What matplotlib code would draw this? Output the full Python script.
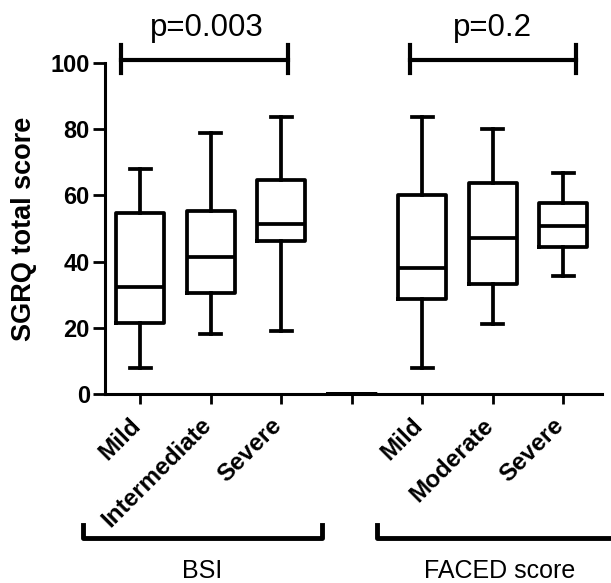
import matplotlib
matplotlib.use("Agg")
import matplotlib.pyplot as plt
from matplotlib.transforms import blended_transform_factory, ScaledTranslation

plt.rcParams['font.family'] = ['Liberation Sans', 'DejaVu Sans']

# box summaries (whisker low, q1, median, q3, whisker high)
groups = ["BSI", "BSI", "BSI", "", "FACED", "FACED", "FACED"]
tick_labels = ["Mild", "Intermediate", "Severe", "", "Mild", "Moderate", "Severe"]
whislo = [7.8, 18.3, 19.0, 0, 7.8, 21.1, 35.7]
q1 = [21.4, 30.4, 46.3, 0, 28.7, 33.1, 44.3]
med = [32.4, 41.5, 51.4, 0, 38.0, 47.0, 50.8]
q3 = [54.6, 55.4, 64.8, 0, 60.1, 63.8, 57.8]
whishi = [67.9, 78.7, 83.8, 0, 83.8, 80.2, 66.9]

p_labels = ["p=0.003", "p=0.2"]
group_names = ["BSI", "FACED score"]

stats = []
for i in range(len(tick_labels)):
    stats.append(dict(whislo=whislo[i], q1=q1[i], med=med[i], q3=q3[i],
                      whishi=whishi[i], fliers=[]))

fig = plt.figure(figsize=(6.11, 5.83), dpi=100)
ax = fig.add_axes([0.172, 0.324, 0.813, 0.568])

positions = list(range(1, len(stats) + 1))
lw = 2.7
ax.bxp(stats, positions=positions, widths=0.68, capwidths=0.3,
       showfliers=False, patch_artist=False,
       boxprops=dict(color="black", linewidth=lw),
       medianprops=dict(color="black", linewidth=lw),
       whiskerprops=dict(color="black", linewidth=lw),
       capprops=dict(color="black", linewidth=lw),
       manage_ticks=False)

ax.set_xlim(0.5, 7.55)
ax.set_ylim(0, 100)
ax.set_yticks([0, 20, 40, 60, 80, 100])
ax.set_xticks(positions)
ax.tick_params(axis="y", labelsize=17, length=9, width=2, pad=2)
ax.tick_params(axis="x", length=7, width=2, pad=7)
ax.set_xticklabels(tick_labels, rotation=45, ha="right", rotation_mode="anchor",
                   fontsize=17.5, fontweight="bold")
for lab in ax.get_yticklabels():
    lab.set_fontweight("bold")
# nudge the slanted labels so their ends sit just left of the ticks
shift = ScaledTranslation(-11 / 100, 0, fig.dpi_scale_trans)
for lab in ax.get_xticklabels():
    lab.set_transform(lab.get_transform() + shift)
ax.set_ylabel("SGRQ total score", fontsize=19.5, fontweight="bold", labelpad=10)

for s in ["top", "right"]:
    ax.spines[s].set_visible(False)
for s in ["left", "bottom"]:
    ax.spines[s].set_linewidth(2.2)

# significance brackets above the plot
brackets = [(0.72, 3.1), (4.83, 7.19)]
p_x = [1.95, 6.0]
for (x0, x1), txt, xc in zip(brackets, p_labels, p_x):
    ax.plot([x0, x1], [100.9, 100.9], color="black", lw=3, clip_on=False)
    ax.plot([x0, x0], [97, 105.4], color="black", lw=3, clip_on=False)
    ax.plot([x1, x1], [97, 105.4], color="black", lw=3, clip_on=False)
    ax.text(xc, 110.5, txt, ha="center", va="center", fontsize=22.5)

# group brackets under the tick labels
tr = blended_transform_factory(ax.transData, fig.transFigure)
group_spans = [(0.18, 3.58), (4.36, 8.5)]
group_centers = [1.88, 6.1]
for (x0, x1), name, xc in zip(group_spans, group_names, group_centers):
    ax.plot([x0, x0, x1, x1], [0.0995, 0.077, 0.077, 0.0995], color="black",
            lw=3.5, transform=tr, clip_on=False)
    ax.text(xc, 0.02, name, ha="center", va="center", fontsize=18,
            transform=tr)

fig.savefig("out.png", dpi=100)
